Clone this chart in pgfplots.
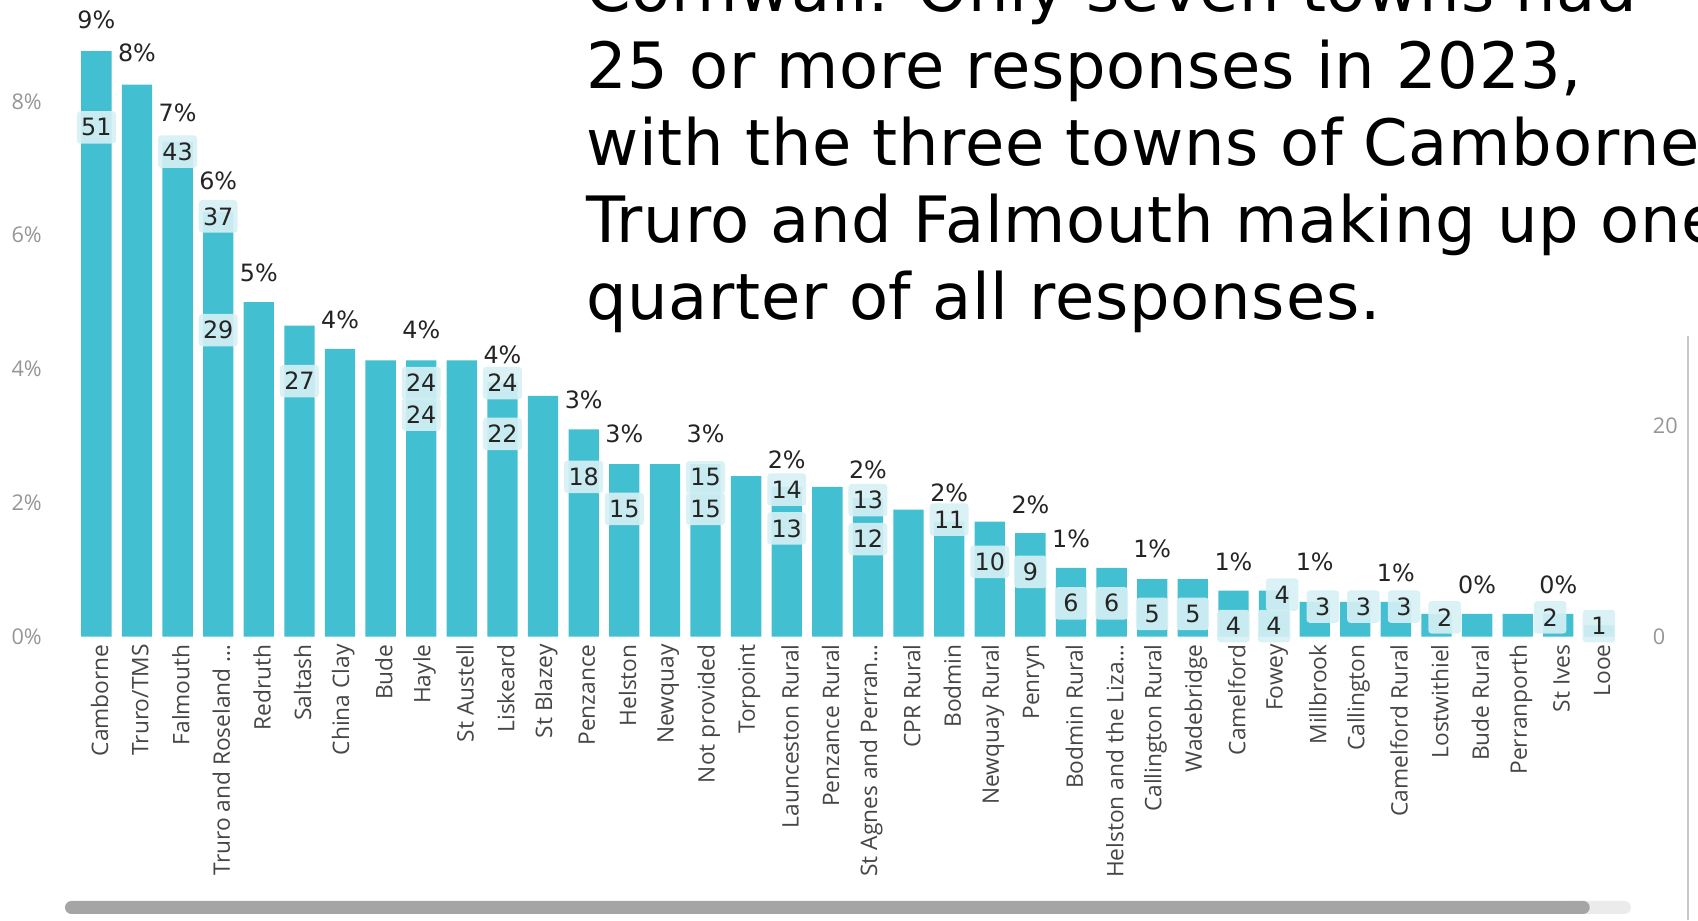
\documentclass[border=0pt]{standalone}
\usepackage{pgfplots}
\pgfplotsset{compat=1.18}
\usepackage{pgfplotstable}
\usepackage{fontspec}
\setmainfont{DejaVu Sans}
\newfontfamily\tickfont{Open Sans}
\newfontfamily\txtfont[LetterSpace=1.2]{DejaVu Sans}
\definecolor{barc}{RGB}{66,191,208}
\definecolor{labc}{RGB}{37,36,35}
\definecolor{tickg}{RGB}{150,150,150}
\definecolor{xlab}{RGB}{70,70,70}
\definecolor{boxc}{RGB}{214,240,244}

\pgfplotstableread{
x y
0 8.75
1 8.25
2 7.40
3 6.35
4 5.00
5 4.65
6 4.30
7 4.13
8 4.13
9 4.13
10 3.80
11 3.60
12 3.10
13 2.58
14 2.58
15 2.58
16 2.40
17 2.24
18 2.24
19 2.07
20 1.90
21 1.72
22 1.72
23 1.55
24 1.03
25 1.03
26 0.86
27 0.86
28 0.69
29 0.69
30 0.52
31 0.52
32 0.52
33 0.34
34 0.34
35 0.34
36 0.34
37 0.17
}\bardata

\pgfplotstableread{
x y lab
0 9.22 9
1 8.72 8
2 7.83 7
3 6.81 6
4 5.44 5
6 4.74 4
8 4.58 4
10 4.22 4
12 3.54 3
13 3.03 3
15 3.03 3
17 2.65 2
19 2.49 2
21 2.15 2
23 1.97 2
24 1.47 1
26 1.31 1
28 1.12 1
30 1.12 1
32 0.95 1
34 0.78 0
36 0.78 0
}\pctdata

\pgfplotstableread{
x y lab
0 7.61 51
2 7.25 43
3 6.28 37
3 4.58 29
5 3.82 27
8 3.79 24
8 3.32 24
10 3.79 24
10 3.03 22
12 2.39 18
13 1.91 15
15 2.38 15
15 1.91 15
17 2.20 14
17 1.62 13
19 2.04 13
19 1.46 12
21 1.75 11
22 1.12 10
23 0.97 9
24 0.50 6
25 0.50 6
26 0.34 5
27 0.34 5
28 0.16 4
29.2 0.63 4
29 0.16 4
30.2 0.45 3
31.2 0.45 3
32.2 0.45 3
33.2 0.29 2
35.8 0.29 2
37 0.16 1
}\cntdata

\begin{document}
\begin{tikzpicture}[x=1pt,y=1pt]
\useasboundingbox (0,0) rectangle (784,425);
\begin{scope}
\clip (0,0) rectangle (784,425);
\begin{scope}[every node/.style={anchor=base west, inner sep=0pt, font=\txtfont\fontsize{29.5}{35.5}\selectfont}]
\node at (270.5,419.5) {Cornwall. Only seven towns had};
\node at (270.5,384) {25 or more responses in 2023,};
\node at (270.5,348.5) {with the three towns of Camborne,};
\node at (270.5,313) {Truro and Falmouth making up one};
\node at (270.5,277.5) {quarter of all responses.};
\end{scope}
\end{scope}
% panel border and scrollbar
\draw[color={rgb,255:red,200;green,200;blue,200}, line width=1pt] (779.5,0) -- (779.5,270);
\fill[color={rgb,255:red,235;green,235;blue,235}, rounded corners=3pt] (720,3) rectangle (753,9);
\fill[color={rgb,255:red,165;green,165;blue,165}, rounded corners=3pt] (30,3) rectangle (734,9);

\begin{axis}[
  at={(35.125pt,131pt)}, anchor=south west,
  scale only axis, width=712.5pt, height=293.55pt,
  xmin=-0.5, xmax=37.5, ymin=0, ymax=9.5,
  clip=false,
  axis line style={draw=none}, major tick length=0pt,
  xtick={0,...,37},
  xticklabels={Camborne,Truro/TMS,Falmouth,Truro and Roseland …,Redruth,Saltash,China Clay,Bude,Hayle,St Austell,Liskeard,St Blazey,Penzance,Helston,Newquay,Not provided,Torpoint,Launceston Rural,Penzance Rural,St Agnes and Perran…,CPR Rural,Bodmin,Newquay Rural,Penryn,Bodmin Rural,Helston and the Liza…,Callington Rural,Wadebridge,Camelford,Fowey,Millbrook,Callington,Camelford Rural,Lostwithiel,Bude Rural,Perranporth,St Ives,Looe},
  xticklabel style={rotate=90, anchor=east, yshift=-1.5pt, font=\tickfont\fontsize{10.5}{12}\selectfont, text=xlab},
  ytick={0,2,4,6,8},
  yticklabels={0\%,2\%,4\%,6\%,8\%},
  yticklabel style={anchor=east, xshift=-12.3pt, font=\tickfont\fontsize{10}{12}\selectfont, text=tickg},
]
\addplot[ybar, bar width=14pt, bar shift=0pt, fill=barc, draw=none] table[x=x,y=y]{\bardata};
\addplot[draw=none, mark=none, point meta=explicit symbolic,
  nodes near coords={\pgfplotspointmeta\%},
  nodes near coords style={anchor=center, font=\fontsize{11}{13}\selectfont, text=labc}]
  table[x=x,y=y,meta=lab]{\pctdata};
\addplot[draw=none, mark=none, point meta=explicit symbolic,
  nodes near coords={\pgfplotspointmeta},
  nodes near coords style={anchor=center, font=\fontsize{11}{13}\selectfont, text=labc,
    fill=boxc, fill opacity=0.9, text opacity=1, minimum width=15pt, minimum height=15pt,
    inner xsep=2pt, rounded corners=1.5pt}]
  table[x=x,y=y,meta=lab]{\cntdata};
\end{axis}

\begin{axis}[
  at={(35.125pt,131pt)}, anchor=south west,
  scale only axis, width=712.5pt, height=293.55pt,
  xmin=-0.5, xmax=37.5, ymin=0, ymax=60.2,
  hide x axis, axis y line*=right,
  axis line style={draw=none}, major tick length=0pt,
  ytick={0,20}, yticklabels={0,20},
  yticklabel style={anchor=west, xshift=12pt, font=\tickfont\fontsize{10}{12}\selectfont, text=tickg},
]
\addplot[draw=none, mark=none] coordinates {(0,0) (37,0)};
\end{axis}
\end{tikzpicture}
\end{document}
